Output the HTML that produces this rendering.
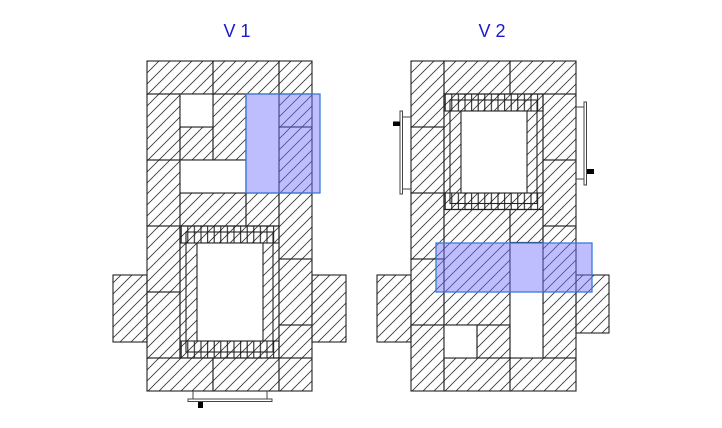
<!DOCTYPE html>
<html><head><meta charset="utf-8"><style>html,body{margin:0;padding:0;background:#fff}svg{display:block}</style></head>
<body>
<svg width="722" height="428" viewBox="0 0 722 428" xmlns="http://www.w3.org/2000/svg">
<defs>
<pattern id="h" patternUnits="userSpaceOnUse" width="11" height="11">
<path d="M0,11 L11,0 M-3,3 L3,-3 M8,14 L14,8" stroke="#333" stroke-width="0.8"/>
</pattern>
<pattern id="v" patternUnits="userSpaceOnUse" width="6.6" height="11">
<path d="M3,0 L3,11" stroke="#111" stroke-width="1"/>
</pattern>
</defs>
<g font-family="Liberation Sans, sans-serif" font-size="18" fill="#1a1acc" text-anchor="middle">
<text x="237" y="37">V 1</text>
<text x="492" y="37">V 2</text>
</g>
<g stroke="#222" stroke-width="1.1" fill="url(#h)">
<!-- V1 -->
<rect x="147" y="61" width="66" height="33"/><rect x="213" y="61" width="66" height="33"/><rect x="279" y="61" width="33" height="33"/>
<rect x="147" y="94" width="33" height="66"/><rect x="147" y="160" width="33" height="66"/><rect x="147" y="226" width="33" height="66"/><rect x="147" y="292" width="33" height="66"/>
<rect x="147" y="358" width="66" height="33"/><rect x="213" y="358" width="66" height="33"/><rect x="279" y="358" width="33" height="33"/>
<rect x="279" y="94" width="33" height="33"/><rect x="279" y="127" width="33" height="66"/><rect x="279" y="193" width="33" height="66"/><rect x="279" y="259" width="33" height="66"/><rect x="279" y="325" width="33" height="33"/>
<rect x="180" y="127" width="33" height="33"/><rect x="213" y="94" width="33" height="66"/>
<rect x="180" y="193" width="66" height="33"/><rect x="246" y="193" width="33" height="33"/>
<rect x="180" y="94" width="33" height="33" fill="#fff"/><rect x="180" y="160" width="66" height="33" fill="#fff"/>
<rect x="246" y="94" width="33" height="99" fill="#fff"/>
<rect x="113" y="275" width="34" height="67"/><rect x="312" y="275" width="34" height="67"/>
<rect x="180" y="226" width="99" height="132"/>
<rect x="180" y="226" width="99" height="17" fill="url(#v)"/>
<rect x="180" y="341" width="99" height="17" fill="url(#v)"/>
<rect x="186" y="232" width="87" height="120" fill="none"/>
<rect x="197" y="243" width="66" height="98" fill="#fff"/>
<!-- V2 -->
<rect x="411" y="61" width="33" height="66"/><rect x="411" y="127" width="33" height="66"/><rect x="411" y="193" width="33" height="66"/><rect x="411" y="259" width="33" height="66"/><rect x="411" y="325" width="33" height="66"/>
<rect x="444" y="61" width="66" height="33"/><rect x="510" y="61" width="66" height="33"/>
<rect x="543" y="94" width="33" height="66"/><rect x="543" y="160" width="33" height="66"/><rect x="543" y="226" width="33" height="132"/>
<rect x="444" y="358" width="66" height="33"/><rect x="510" y="358" width="66" height="33"/>
<rect x="444" y="209.5" width="66" height="115.5"/><rect x="510" y="209.5" width="33" height="33"/>
<rect x="510" y="242.5" width="33" height="115.5" fill="#fff"/>
<rect x="444" y="325" width="33" height="33" fill="#fff"/><rect x="477" y="325" width="33" height="33"/>
<rect x="377" y="275" width="34" height="67"/><rect x="576" y="275" width="33" height="58"/>
<rect x="444" y="94" width="99" height="115.5"/>
<rect x="444" y="94" width="99" height="17" fill="url(#v)"/>
<rect x="444" y="193" width="99" height="16.5" fill="url(#v)"/>
<rect x="450" y="100" width="87" height="103.5" fill="none"/>
<rect x="461" y="111" width="66" height="82" fill="#fff"/>
</g>
<rect x="246" y="94" width="74" height="99" fill="rgba(110,110,255,0.45)" stroke="#3a7bd5" stroke-width="1.3"/>
<rect x="436" y="243" width="156" height="49" fill="rgba(110,110,255,0.45)" stroke="#3a7bd5" stroke-width="1.3"/>
<g stroke="#444" stroke-width="1" fill="#fff">
<path d="M193,391 V400 M267,391 V400" fill="none"/>
<rect x="188" y="399" width="84" height="2.5"/>
<path d="M402,117 H411 M402,189 H411 M576,107 H585 M576,179 H585" fill="none"/>
<rect x="400" y="111" width="2.5" height="83"/>
<rect x="584" y="102" width="2.5" height="83"/>
</g>
<g fill="#000">
<rect x="198" y="402" width="5" height="6"/>
<rect x="393" y="121.5" width="7" height="4.5"/>
<rect x="587" y="169" width="7" height="5"/>
</g>
</svg>
</body></html>
